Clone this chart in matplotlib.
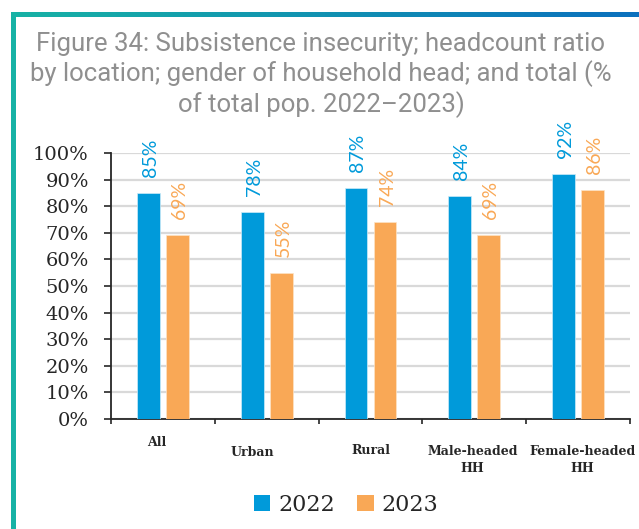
import numpy as np
import matplotlib
matplotlib.use("Agg")
import matplotlib.pyplot as plt
from matplotlib.patches import Rectangle, Patch

# Data
categories = ["All", "Urban", "Rural", "Male-headed\nHH", "Female-headed\nHH"]
years = ["2022", "2023"]
values_2022 = [85, 78, 87, 84, 92]
values_2023 = [69, 55, 74, 69, 86]
ytick_values = [0, 10, 20, 30, 40, 50, 60, 70, 80, 90, 100]

title = ("Figure 34: Subsistence insecurity; headcount ratio\n"
         "by location; gender of household head; and total (%\n"
         "of total pop. 2022\u20132023)")

BLUE = "#009ADA"
ORANGE = "#F9A856"
DARK = "#262626"
GRID = "#D9D9D9"

W, H = 639, 529
fig = plt.figure(figsize=(W / 100, H / 100), dpi=100)

# Decorative frame: gradient bar on top, teal rule on the left
top_ax = fig.add_axes([11 / W, 1 - 17 / H, 1 - 11 / W, 5 / H])
grad = np.linspace(0, 1, 256).reshape(1, -1)
cmap = matplotlib.colors.LinearSegmentedColormap.from_list("frame", ["#17B2A5", "#0B70BE"])
top_ax.imshow(grad, aspect="auto", cmap=cmap, extent=[0, 1, 0, 1])
top_ax.set_axis_off()
fig.patches.append(Rectangle((11 / W, 0), 5 / W, 1 - 12 / H, transform=fig.transFigure,
                             facecolor="#17B2A5", edgecolor="none", zorder=5))

# Title
fig.text(321 / W, 1 - 32 / H, title, ha="center", va="top", fontsize=18.5,
         family="Roboto", color="#8F8F8F", linespacing=1.2)

# Main axes
ax = fig.add_axes([111 / W, 1 - 419 / H, (630 - 111) / W, (419 - 153) / H])
x = np.arange(len(categories))
bw = 0.22
off = 0.14
b1 = ax.bar(x - off, np.array(values_2022) / 100, bw, color=BLUE, edgecolor="#CDEBF8",
            linewidth=0.5, zorder=3, label=years[0])
b2 = ax.bar(x + off, np.array(values_2023) / 100, bw, color=ORANGE, edgecolor="#FDE3C6",
            linewidth=0.5, zorder=3, label=years[1])

for bars, vals, col in ((b1, values_2022, BLUE), (b2, values_2023, ORANGE)):
    for rect, v in zip(bars, vals):
        ax.annotate(f"{v}%", xy=(rect.get_x() + rect.get_width() / 2, rect.get_height()),
                    xytext=(2, 16), textcoords="offset pixels", rotation=90,
                    ha="center", va="bottom", fontsize=14, family="Lato",
                    fontweight="normal", color=col, annotation_clip=False, zorder=4)

ax.set_xlim(-0.5, len(categories) - 0.5)
ax.set_ylim(0, 1)
ax.set_yticks(np.array(ytick_values) / 100)
ax.set_yticklabels([f"{v}%" for v in ytick_values], family="DejaVu Serif", fontsize=14,
                   color=DARK)
ax.set_xticks(np.arange(-0.5, len(categories), 1.0))
ax.set_xticklabels([])
ax.tick_params(axis="y", length=5, width=1.2, color=DARK, pad=11)
ax.tick_params(axis="x", length=3.5, width=1.2, color=DARK)
ax.yaxis.grid(True, color=GRID, linewidth=1.6, zorder=0)
ax.set_axisbelow(True)
for s in ("top", "right"):
    ax.spines[s].set_visible(False)
for s in ("left", "bottom"):
    ax.spines[s].set_color(DARK)
    ax.spines[s].set_linewidth(1.3)

# Category labels, staggered below the axis
label_shift = [(-6, -24), (-14, -34), (0, -31), (-2, -41), (4, -41)]
for xi, name, (dx, dy) in zip(x, categories, label_shift):
    ax.annotate(name, xy=(xi, 0), xycoords=("data", "axes fraction"),
                xytext=(dx, dy), textcoords="offset pixels", ha="center", va="center",
                fontsize=9, family="DejaVu Serif", fontweight="bold", color=DARK,
                linespacing=1.45, annotation_clip=False)

# Legend
handles = [Patch(facecolor=BLUE, edgecolor="none"), Patch(facecolor=ORANGE, edgecolor="none")]
fig.legend(handles, years, loc="center", bbox_to_anchor=(346 / W, 1 - 505 / H), ncol=2,
           frameon=False, prop={"family": "DejaVu Serif", "size": 16},
           handlelength=0.75, handleheight=0.75, handletextpad=0.35, columnspacing=1.0,
           labelcolor=DARK)

fig.savefig("out.png", dpi=100, facecolor="white")
